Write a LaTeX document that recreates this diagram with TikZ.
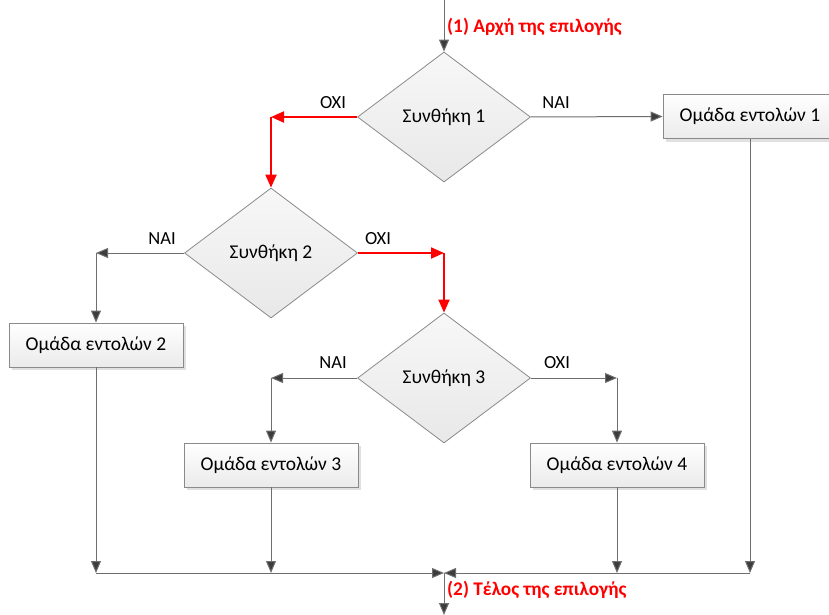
\documentclass[tikz,border=0pt]{standalone}
\usepackage{fontspec}
\setmainfont{Carlito}
\usetikzlibrary{shapes.geometric,arrows.meta,shadows}
\definecolor{linegray}{HTML}{6E6E6E}
\definecolor{tipgray}{HTML}{3C3C3C}
\definecolor{edgegray}{HTML}{8A8A8A}
\tikzset{
  decision/.style={diamond, draw=edgegray, line width=0.8pt, minimum width=173pt,
    minimum height=130pt, inner sep=0pt, top color=gray!6, bottom color=gray!18,
    font=\fontsize{19.5}{22}\selectfont},
  action/.style={rectangle, draw=edgegray, line width=0.8pt, minimum width=174pt,
    minimum height=44pt, inner sep=0pt, top color=white, bottom color=gray!16,
    drop shadow={shadow xshift=3pt, shadow yshift=-3pt, fill=black!12, opacity=1},
    font=\fontsize{19.5}{22}\selectfont},
  flow/.style={draw=linegray, line width=1pt,
    -{Triangle[width=10pt,length=12pt,fill=tipgray]}},
  redflow/.style={draw=red, line width=2pt,
    -{Triangle[width=11pt,length=13pt,fill=red]}},
  answer/.style={font=\fontsize{18.5}{21}\selectfont, inner sep=0pt},
  mark label/.style={text=red, font=\bfseries\fontsize{19.3}{22}\selectfont,
    anchor=west, inner sep=0pt},
}
\begin{document}
\begin{tikzpicture}[x=1pt, y=-1pt]
\useasboundingbox (0,0) rectangle (829,615);

% decisions
\node[decision] (c1) at (444,117) {Συνθήκη 1};
\node[decision] (c2) at (271,253) {Συνθήκη 2};
\node[decision] (c3) at (444,378) {Συνθήκη 3};

% statement groups
\node[action] (b1) at (750,116.5) {Ομάδα εντολών 1};
\node[action] (b2) at (96,345) {Ομάδα εντολών 2};
\node[action] (b3) at (271,465) {Ομάδα εντολών 3};
\node[action] (b4) at (617,465) {Ομάδα εντολών 4};

% routing points
\coordinate (start) at (444,0);
\coordinate (k1) at (271,117);
\coordinate (k2) at (96,253);
\coordinate (k3) at (444,253);
\coordinate (k4) at (271,378);
\coordinate (k5) at (617,378);
\coordinate (j2) at (96,573);
\coordinate (j3) at (271,573);
\coordinate (j4) at (617,573);
\coordinate (j1) at (750,573);
\coordinate (join) at (444,573);
\coordinate (exit) at (444,615);

% entry
\draw[flow] (start) -- (c1.north);

% condition 1
\draw[redflow] (c1.west) -- (k1);
\draw[redflow] (k1) -- (c2.north);
\draw[flow] (c1.east) -- (b1.west);

% condition 2
\draw[flow] (c2.west) -- (k2);
\draw[flow] (k2) -- (b2.north);
\draw[redflow] (c2.east) -- (k3);
\draw[redflow] (k3) -- (c3.north);

% condition 3
\draw[flow] (c3.west) -- (k4);
\draw[flow] (k4) -- (b3.north);
\draw[flow] (c3.east) -- (k5);
\draw[flow] (k5) -- (b4.north);

% merge
\draw[flow] (b1.south) -- (j1);
\draw[flow] (b2.south) -- (j2);
\draw[flow] (b3.south) -- (j3);
\draw[flow] (b4.south) -- (j4);
\draw[flow] (j2) -- (join);
\draw[flow] (j1) -- (join);
\draw[flow] (join) -- (exit);

% answers
\node[answer] (a1n) at (333,103) {ΟΧΙ};
\node[answer] (a1y) at (556,103) {ΝΑΙ};
\node[answer] (a2y) at (162,239) {ΝΑΙ};
\node[answer] (a2n) at (378,239) {ΟΧΙ};
\node[answer] (a3y) at (333,363) {ΝΑΙ};
\node[answer] (a3n) at (557,363) {ΟΧΙ};

% markers
\node[mark label] (m1) at (447,27) {(1) Αρχή της επιλογής};
\node[mark label] (m2) at (447,590) {(2) Τέλος της επιλογής};
\end{tikzpicture}
\end{document}
